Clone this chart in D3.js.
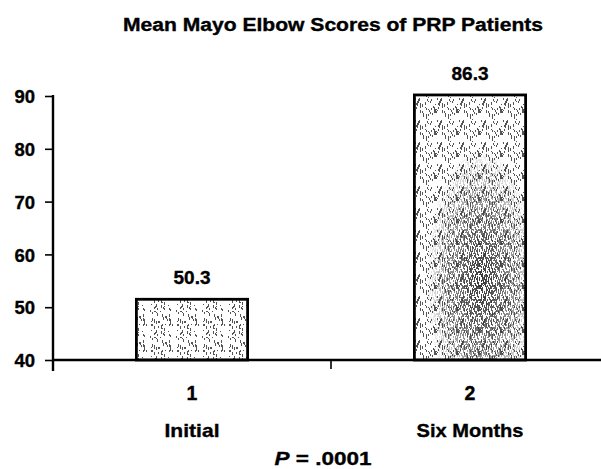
<!DOCTYPE html>
<html><head><meta charset="utf-8">
<script src="https://cdn.jsdelivr.net/npm/d3@7/dist/d3.min.js"></script>
<style>body{margin:0;background:#fff}svg{display:block}text{font-family:"Liberation Sans",Arial,sans-serif;font-weight:bold;fill:#000;stroke:#000;stroke-width:0.35px}</style>
</head><body><svg id="c" width="601" height="469"></svg>
<script>
const categories = ["1", "2"];
const categoryNames = ["Initial", "Six Months"];
const barValues = [51.5, 90.2];
const valueLabels = ["50.3", "86.3"];
const yTicks = [40, 50, 60, 70, 80, 90];
const title = "Mean Mayo Elbow Scores of PRP Patients";

const FONT = '"Liberation Sans",Arial,sans-serif';
const svg = d3.select("#c");
const m = {left: 53, top: 96, bottom: 360, right: 609};
const x = d3.scaleBand().domain(categories).range([m.left, m.right]).paddingInner(0.6).paddingOuter(0.3);
const y = d3.scaleLinear().domain([40, 90]).range([m.bottom, m.top]);

// stipple textures (styling only)
const defs = svg.append("defs");
let s = 11;
function rnd(){ s = (s * 16807) % 2147483647; return s / 2147483647; }
function stipple(id, size, n, col) {
  const p = defs.append("pattern").attr("id", id).attr("patternUnits", "userSpaceOnUse").attr("width", size).attr("height", size);
  for (let i = 0; i < n; i++) {
    p.append("rect").attr("x", Math.floor(rnd()*size)).attr("y", Math.floor(rnd()*size))
      .attr("width", 1).attr("height", 1 + Math.floor(rnd()*3)).attr("fill", col);
  }
}
stipple("stipA", 26, 55, "#555");
stipple("stipB", 22, 45, "#555");
stipple("stipD", 14, 55, "#333");
const rg = defs.append("radialGradient").attr("id", "rg").attr("cx", 0.6).attr("cy", 0.7).attr("r", 0.5);
rg.append("stop").attr("offset", 0).attr("stop-color", "#fff").attr("stop-opacity", 1);
rg.append("stop").attr("offset", 0.6).attr("stop-color", "#fff").attr("stop-opacity", 0.5);
rg.append("stop").attr("offset", 1).attr("stop-color", "#fff").attr("stop-opacity", 0);
defs.append("mask").attr("id", "mk").attr("maskContentUnits", "objectBoundingBox")
  .append("rect").attr("width", 1).attr("height", 1).attr("fill", "url(#rg)");

svg.append("text").attr("x", 333).attr("y", 31).attr("text-anchor", "middle").attr("font-size", 17.5)
  .attr("textLength", 420).attr("lengthAdjust", "spacingAndGlyphs").text(title);

// bars
const bars = svg.selectAll("g.bar").data(categories).enter().append("g").attr("class", "bar");
bars.append("rect").attr("x", d => x(d)).attr("width", x.bandwidth())
  .attr("y", (d, i) => y(barValues[i])).attr("height", (d, i) => y(40) - y(barValues[i]))
  .attr("fill", "#fff");
bars.append("rect").attr("x", d => x(d)).attr("width", x.bandwidth())
  .attr("y", (d, i) => y(barValues[i])).attr("height", (d, i) => y(40) - y(barValues[i]))
  .attr("fill", (d, i) => i === 0 ? "url(#stipA)" : "url(#stipB)");
bars.filter((d, i) => i === 1).append("rect").attr("x", d => x(d)).attr("width", x.bandwidth())
  .attr("y", (d) => y(barValues[1])).attr("height", () => y(40) - y(barValues[1]))
  .attr("fill", "url(#stipD)").attr("mask", "url(#mk)");
bars.append("rect").attr("x", d => x(d)).attr("width", x.bandwidth())
  .attr("y", (d, i) => y(barValues[i])).attr("height", (d, i) => y(40) - y(barValues[i]))
  .attr("fill", "none").attr("stroke", "#000").attr("stroke-width", 2.8);

svg.selectAll("text.val").data(categories).enter().append("text").attr("class", "val")
  .attr("x", d => x(d) + x.bandwidth() / 2).attr("y", (d, i) => y(barValues[i]) - 15)
  .attr("text-anchor", "middle").attr("font-size", 19).text((d, i) => valueLabels[i]);

// y axis
const ya = svg.append("g").attr("transform", `translate(${m.left},0)`)
  .call(d3.axisLeft(y).tickValues(yTicks).tickSize(8).tickPadding(10).tickSizeOuter(0));
ya.select(".domain").attr("stroke-width", 2.4).attr("d", `M0,${m.top - 1}V${m.bottom + 11}`);
ya.selectAll(".tick line").attr("stroke-width", 1.6);
ya.selectAll(".tick text").attr("font-size", 18.5).attr("font-family", FONT).attr("font-weight", "bold").attr("fill", "#000").attr("dy", "0.36em");

// x axis
const xa = svg.append("g").attr("transform", `translate(0,${m.bottom})`);
xa.append("line").attr("x1", m.left).attr("x2", m.right).attr("stroke", "#000").attr("stroke-width", 2.4);
xa.append("line").attr("x1", (m.left + m.right) / 2).attr("x2", (m.left + m.right) / 2).attr("y1", 0).attr("y2", 9).attr("stroke", "#000").attr("stroke-width", 1.6);

svg.selectAll("text.cat").data(categories).enter().append("text").attr("class", "cat")
  .attr("x", d => x(d) + x.bandwidth() / 2).attr("y", 400).attr("text-anchor", "middle").attr("font-size", 19.5).text(d => d);
const nameLen = [55, 107];
svg.selectAll("text.catn").data(categoryNames).enter().append("text").attr("class", "catn")
  .attr("x", (d, i) => x(categories[i]) + x.bandwidth() / 2).attr("y", 437).attr("text-anchor", "middle").attr("font-size", 19)
  .attr("textLength", (d, i) => nameLen[i]).attr("lengthAdjust", "spacingAndGlyphs").text(d => d);

const p = svg.append("text").attr("x", 323).attr("y", 465).attr("text-anchor", "middle").attr("font-size", 18)
  .attr("textLength", 97).attr("lengthAdjust", "spacingAndGlyphs");
p.append("tspan").attr("font-style", "italic").text("P");
p.append("tspan").text(" = .0001");
</script></body></html>
